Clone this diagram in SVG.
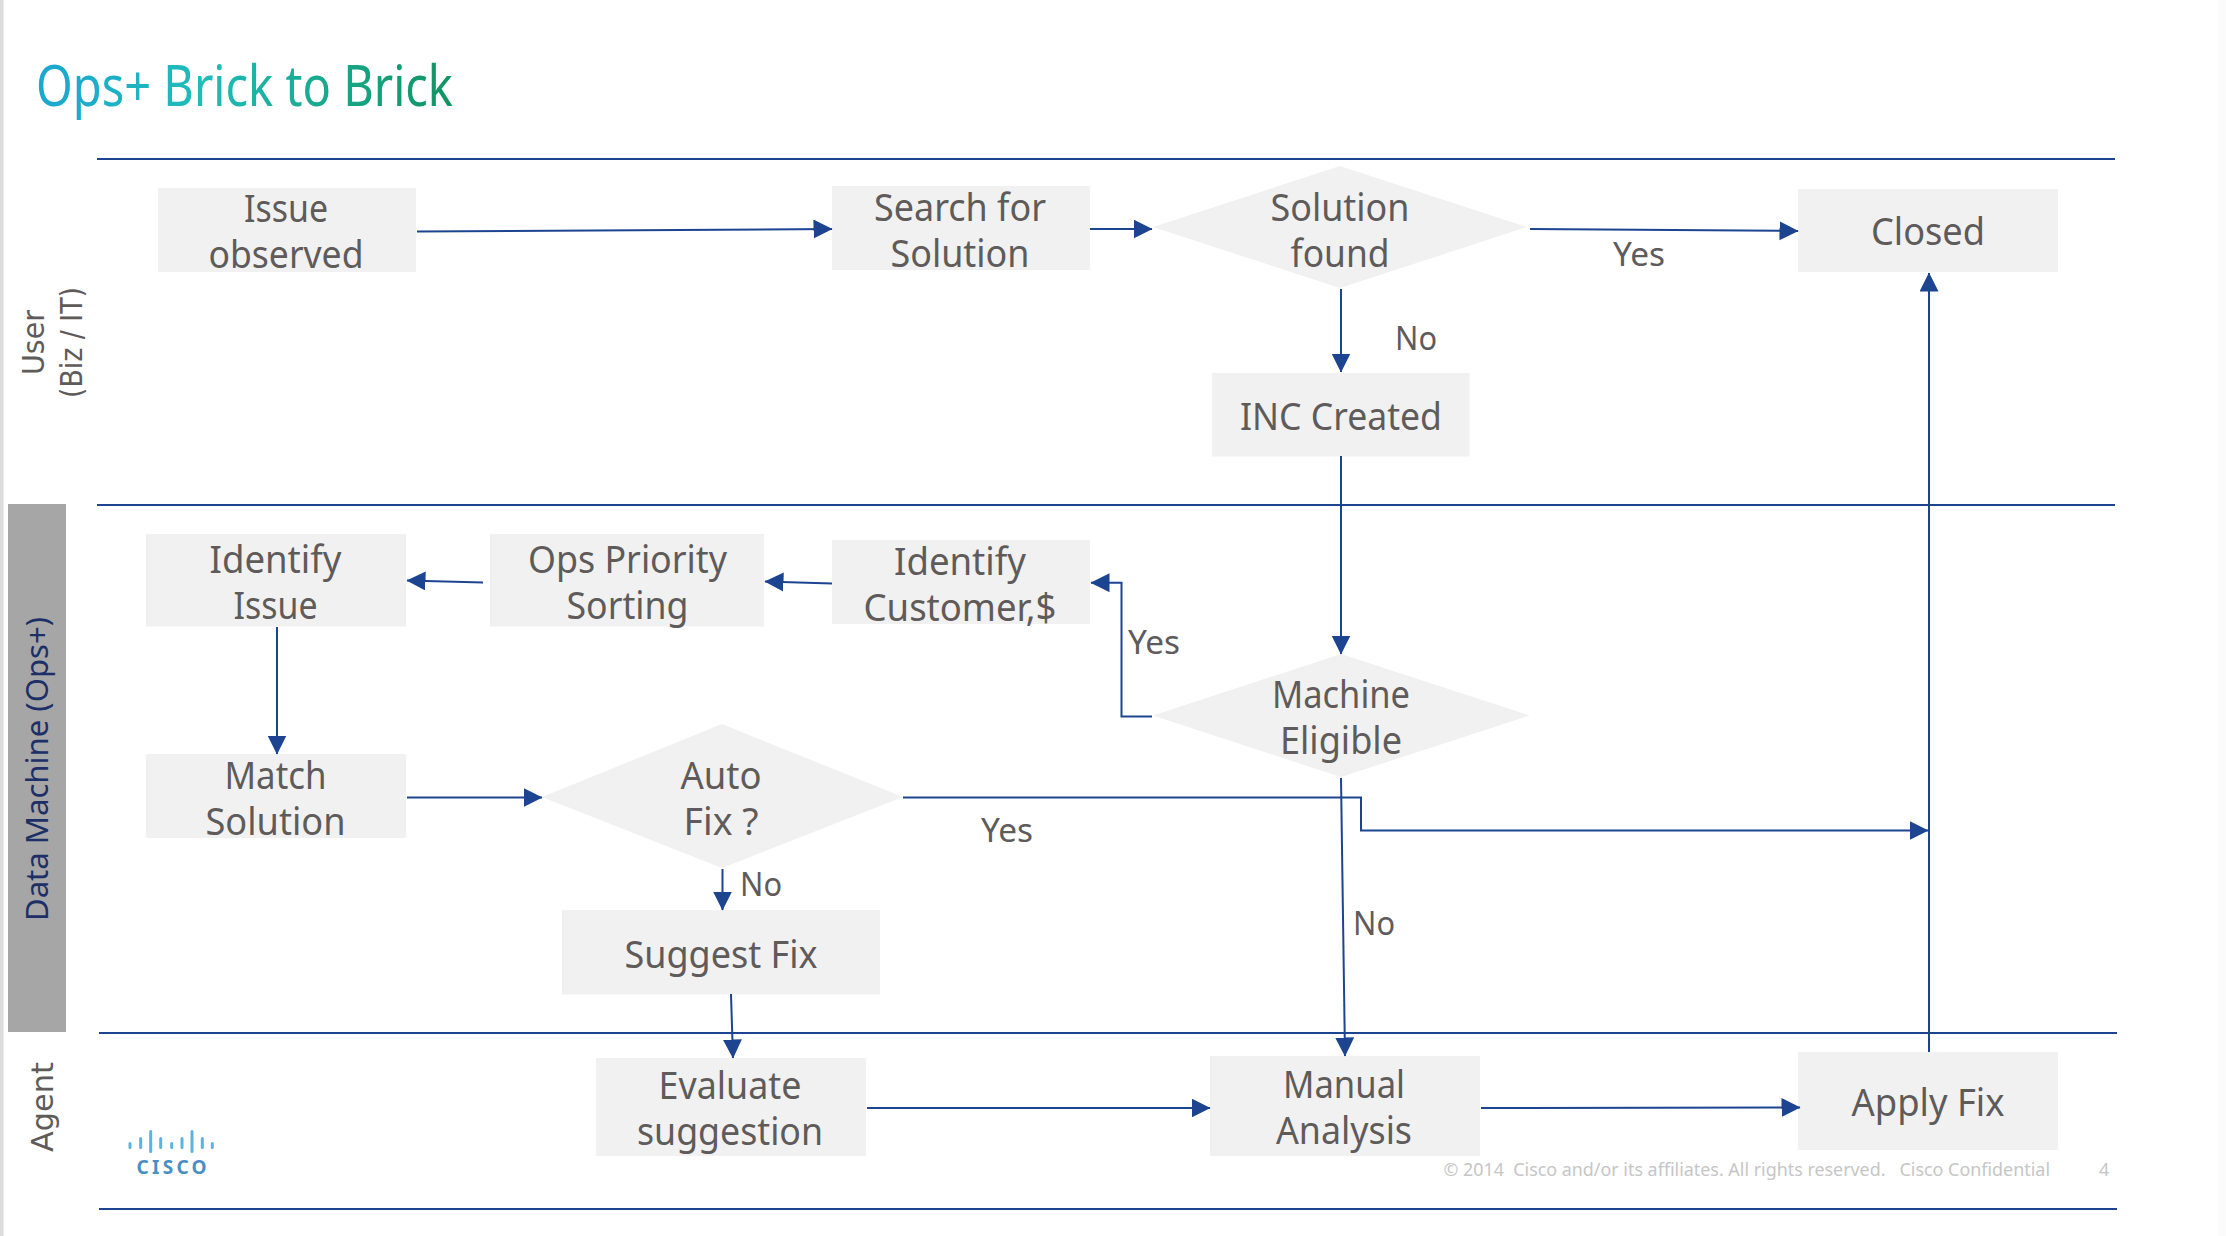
<svg xmlns="http://www.w3.org/2000/svg" width="2226" height="1236" viewBox="0 0 2226 1236">
<style>
text{font-family:"Noto Sans","Open Sans",sans-serif;fill:#5e5b5a}
.n{font-size:38px;text-anchor:middle}
.b{fill:#f1f1f1}
.l{font-size:32px}
.c{fill:none;stroke:#1d4491;stroke-width:2;marker-end:url(#a)}
.s{fill:none;stroke:#1d4491;stroke-width:2}
.v{font-family:"DejaVu Sans","Liberation Sans",sans-serif;font-size:30px}
.f{font-size:18px;fill:#c6c6c6;white-space:pre}
.bar{fill:none;stroke:#5ab4df;stroke-width:3;stroke-linecap:round}
</style>
<defs>
<marker id="a" markerUnits="userSpaceOnUse" markerWidth="20" markerHeight="20" refX="18.5" refY="9.500" orient="auto"><path d="M0 0L19 9.500L0 19Z" fill="#1d4491"/></marker>
<linearGradient id="t" gradientUnits="userSpaceOnUse" x1="36" y1="60" x2="453" y2="100"><stop offset="0" stop-color="#1ba6d1"/><stop offset=".4" stop-color="#20bcb8"/><stop offset="1" stop-color="#0f9460"/></linearGradient>
</defs>
<rect width="2226" height="1236" fill="#fff"/>
<rect id="edge" x="0" y="0" width="3.500" height="1236" fill="#dcdcdc"/>
<rect x="2218" y="0" width="8" height="1236" fill="#fbfbfb"/>
<text id="title" x="36" y="106" font-size="57" textLength="417" lengthAdjust="spacingAndGlyphs" style="fill:url(#t)">Ops+ Brick to Brick</text>
<g id="lanes">
<path class="s" d="M97 159H2115M97 505H2115M99 1033H2117M99 1209H2117"/>
<rect id="band" x="8" y="504" width="58" height="528" fill="#a6a6a6"/>
<text class="v" transform="translate(43.500 375) rotate(-90)" textLength="65" lengthAdjust="spacingAndGlyphs">User</text>
<text class="v" transform="translate(82 398) rotate(-90)" textLength="111" lengthAdjust="spacingAndGlyphs">(Biz / IT)</text>
<text transform="translate(48 921) rotate(-90)" font-size="31" textLength="304" lengthAdjust="spacingAndGlyphs" style="fill:#1c2f66">Data Machine (Ops+)</text>
<text class="v" transform="translate(53 1152) rotate(-90)" textLength="90" lengthAdjust="spacingAndGlyphs">Agent</text>
</g>
<g id="nodes">
<g id="issue-observed"><rect class="b" x="158" y="188" width="258" height="84"/><text class="n" x="286" y="222" textLength="84" lengthAdjust="spacingAndGlyphs">Issue</text><text class="n" x="286" y="267.500" textLength="155" lengthAdjust="spacingAndGlyphs">observed</text></g>
<g id="search-solution"><rect class="b" x="832" y="186" width="258" height="84"/><text class="n" x="960" y="221" textLength="172" lengthAdjust="spacingAndGlyphs">Search for</text><text class="n" x="960" y="267" textLength="139" lengthAdjust="spacingAndGlyphs">Solution</text></g>
<g id="solution-found"><polygon class="b" points="1153,227 1340,166 1527,227 1340,288"/><text class="n" x="1340" y="221" textLength="139" lengthAdjust="spacingAndGlyphs">Solution</text><text class="n" x="1340" y="267" textLength="99" lengthAdjust="spacingAndGlyphs">found</text></g>
<g id="closed"><rect class="b" x="1798" y="189" width="260" height="83"/><text class="n" x="1928" y="244.500" textLength="114" lengthAdjust="spacingAndGlyphs">Closed</text></g>
<g id="inc-created"><rect class="b" x="1212" y="373" width="257.500" height="83.500"/><text class="n" x="1341" y="430" textLength="202" lengthAdjust="spacingAndGlyphs">INC Created</text></g>
<g id="identify-issue"><rect class="b" x="146" y="534" width="260" height="92.500"/><text class="n" x="275.500" y="573" textLength="132" lengthAdjust="spacingAndGlyphs">Identify</text><text class="n" x="275.500" y="619" textLength="84" lengthAdjust="spacingAndGlyphs">Issue</text></g>
<g id="ops-priority"><rect class="b" x="490" y="534" width="274" height="92.500"/><text class="n" x="627.500" y="573" textLength="199" lengthAdjust="spacingAndGlyphs">Ops Priority</text><text class="n" x="627.500" y="619" textLength="122" lengthAdjust="spacingAndGlyphs">Sorting</text></g>
<g id="identify-customer"><rect class="b" x="832" y="540" width="258" height="84"/><text class="n" x="960" y="575" textLength="132" lengthAdjust="spacingAndGlyphs">Identify</text><text class="n" x="960" y="621" textLength="193" lengthAdjust="spacingAndGlyphs">Customer,$</text></g>
<g id="machine-eligible"><polygon class="b" points="1153,715.500 1341,654 1529.500,715.500 1341,777"/><text class="n" x="1341" y="707.500" textLength="138" lengthAdjust="spacingAndGlyphs">Machine</text><text class="n" x="1341" y="753.500" textLength="122" lengthAdjust="spacingAndGlyphs">Eligible</text></g>
<g id="match-solution"><rect class="b" x="146" y="754" width="260" height="84"/><text class="n" x="275.500" y="789" textLength="102" lengthAdjust="spacingAndGlyphs">Match</text><text class="n" x="275.500" y="835" textLength="140" lengthAdjust="spacingAndGlyphs">Solution</text></g>
<g id="auto-fix"><polygon class="b" points="542,797 722,724 903,797 722,868"/><text class="n" x="721" y="789" textLength="81" lengthAdjust="spacingAndGlyphs">Auto</text><text class="n" x="721" y="835" textLength="75" lengthAdjust="spacingAndGlyphs">Fix ?</text></g>
<g id="suggest-fix"><rect class="b" x="562" y="910" width="318" height="84.500"/><text class="n" x="721" y="968" textLength="193" lengthAdjust="spacingAndGlyphs">Suggest Fix</text></g>
<g id="evaluate-suggestion"><rect class="b" x="596" y="1058" width="270" height="98"/><text class="n" x="730" y="1099" textLength="143" lengthAdjust="spacingAndGlyphs">Evaluate</text><text class="n" x="730" y="1145" textLength="186" lengthAdjust="spacingAndGlyphs">suggestion</text></g>
<g id="manual-analysis"><rect class="b" x="1210" y="1056" width="270" height="100"/><text class="n" x="1344" y="1098" textLength="122" lengthAdjust="spacingAndGlyphs">Manual</text><text class="n" x="1344" y="1144" textLength="136" lengthAdjust="spacingAndGlyphs">Analysis</text></g>
<g id="apply-fix"><rect class="b" x="1798" y="1052" width="260" height="98"/><text class="n" x="1928" y="1115.500" textLength="153" lengthAdjust="spacingAndGlyphs">Apply Fix</text></g>
</g>
<g id="connectors">
<path class="c" d="M417 231.500L832 229"/>
<path class="c" d="M1090 229H1152"/>
<path class="c" d="M1530 229L1798 231"/>
<path class="c" d="M1341 289V372"/>
<path class="c" d="M1341 456V654"/>
<path class="c" d="M1929 1052V273"/>
<path class="c" d="M1152 716.500H1121.500V582.700H1091"/>
<path class="c" d="M832 583.500L765 581.500"/>
<path class="c" d="M483 582.500L407 580.500"/>
<path class="c" d="M277 627V754"/>
<path class="c" d="M407 797.500H542"/>
<path class="c" d="M722.500 869V910"/>
<path class="c" d="M731 994L733 1058"/>
<path class="c" d="M1341 778L1345 1056"/>
<path class="c" d="M903 797.500H1361V830.500H1928"/>
<path class="c" d="M867 1108H1210"/>
<path class="c" d="M1481 1108L1800 1107.500"/>
</g>
<g id="labels">
<text class="l" x="1613" y="265.500" textLength="52" lengthAdjust="spacingAndGlyphs">Yes</text>
<text class="l" x="1395" y="350" textLength="42" lengthAdjust="spacingAndGlyphs">No</text>
<text class="l" x="1128" y="654" textLength="52" lengthAdjust="spacingAndGlyphs">Yes</text>
<text class="l" x="981" y="842" textLength="52" lengthAdjust="spacingAndGlyphs">Yes</text>
<text class="l" x="740" y="896" textLength="42" lengthAdjust="spacingAndGlyphs">No</text>
<text class="l" x="1353" y="935" textLength="42" lengthAdjust="spacingAndGlyphs">No</text>
</g>
<g id="cisco-logo">
<path class="bar" d="M130 1143.500V1147.500M140.700 1138.500V1147.500M150.700 1131.500V1151.500M160.700 1138.500V1147.500M171.700 1143.500V1147.500M182 1138.500V1147.500M192 1131.500V1151.500M202.300 1138.500V1147.500M212.300 1143.500V1147.500"/>
<text x="136.500" y="1174" font-size="19" font-weight="700" textLength="70" style="fill:#4a8fc4">CISCO</text>
</g>
<g id="footer">
<text class="f" x="1443.500" y="1176" textLength="442" lengthAdjust="spacingAndGlyphs">© 2014  Cisco and/or its affiliates. All rights reserved.</text>
<text class="f" x="1899.500" y="1176" textLength="150.500" lengthAdjust="spacingAndGlyphs">Cisco Confidential</text>
<text class="f" x="2099" y="1176">4</text>
</g>
</svg>
